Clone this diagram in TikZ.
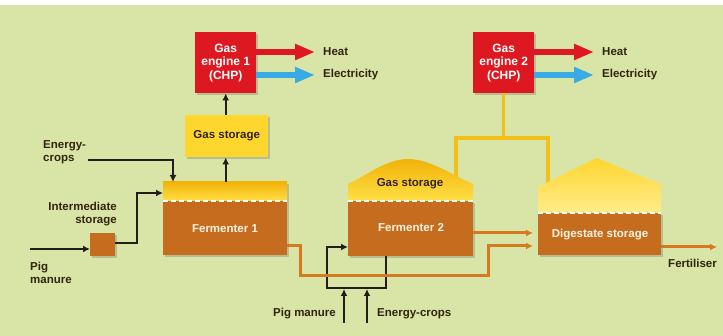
\documentclass[tikz,border=0pt]{standalone}
\usepackage{fontspec}
\setmainfont{Liberation Sans}
\usetikzlibrary{arrows.meta,shadows}
\definecolor{bg}{RGB}{217,229,167}
\definecolor{cred}{RGB}{222,24,32}
\definecolor{cblue}{RGB}{58,170,228}
\definecolor{cbrown}{RGB}{198,108,30}
\definecolor{cgold}{RGB}{242,178,8}
\definecolor{cyel}{RGB}{255,214,45}
\definecolor{cyel2}{RGB}{255,224,70}
\definecolor{cpale}{RGB}{255,236,140}
\definecolor{corange}{RGB}{214,122,34}
\definecolor{cpipe}{RGB}{244,192,24}
\definecolor{cink}{RGB}{35,30,25}
\definecolor{ctxt}{RGB}{50,36,12}
\definecolor{cwt}{RGB}{255,244,225}
\tikzset{
  fnt/.style={font=\bfseries\fontsize{11.5}{13}\selectfont},
  box/.style={draw=none, inner sep=0pt, anchor=north west,
    drop shadow={shadow xshift=1.5pt, shadow yshift=-1.5pt, opacity=0.3, fill=black!60}},
  engine/.style={box, fill=cred, text=white, align=center,
    font=\bfseries\fontsize{12}{13.5}\selectfont, minimum width=61pt, minimum height=61pt},
  lbl/.style={fnt, text=ctxt, inner sep=0pt},
  wlbl/.style={fnt, text=cwt, inner sep=0pt},
  harrow/.style={line width=6pt, -{Triangle[length=20pt,width=15pt]}},
  blk/.style={draw=cink, line width=2.2pt},
  blkarrow/.style={blk, -{Latex[length=7pt,width=7pt]}},
  oline/.style={draw=corange, line width=3pt, -{Latex[length=7pt,width=7pt]}},
  pipe/.style={draw=cpipe, line width=3.2pt},
  wdash/.style={draw=white, line width=1.3pt, dash pattern=on 5pt off 3pt},
}
\begin{document}
\begin{tikzpicture}[x=1pt,y=-1pt]
\useasboundingbox (0,0) rectangle (723,336);
\fill[bg] (0,0) rectangle (723,336);
\fill[white] (0,0) rectangle (723,5);

% gas engines
\node[engine] (eng1) at (195,32) {Gas\\engine 1\\(CHP)};
\node[engine] (eng2) at (473,32) {Gas\\engine 2\\(CHP)};
\node[lbl, anchor=west] (heat1) at (323,52) {Heat};
\node[lbl, anchor=west] (el1) at (323,75) {Electricity};
\node[lbl, anchor=west] (heat2) at (602,52) {Heat};
\node[lbl, anchor=west] (el2) at (602,75) {Electricity};
\draw[harrow, cred] (eng1.east |- heat1.west) -- ([xshift=-8pt]heat1.west);
\draw[harrow, cblue] (eng1.east |- el1.west) -- ([xshift=-8pt]el1.west);
\draw[harrow, cred] (eng2.east |- heat2.west) -- ([xshift=-8pt]heat2.west);
\draw[harrow, cblue] (eng2.east |- el2.west) -- ([xshift=-8pt]el2.west);

% gas storage 1
\node[box, fill=cyel, minimum width=83pt, minimum height=42pt, fnt, text=ctxt] (gs1) at (185,115) {Gas storage};

% pipes from engine 2
\coordinate (pj) at (503,138);
\coordinate (pl) at (456,138);
\coordinate (pr) at (548,138);
\draw[pipe] (eng2.south) -- (eng2.south |- pj);
\draw[pipe, line cap=rect] (pl) -- (pr);
\draw[pipe] (pl) -- (456,182);
\draw[pipe] (pr) -- (548,186);

% fermenter 1
\node[box, fill=cbrown, minimum width=124pt, minimum height=73pt] (f1) at (163,182) {};
\shade[top color=cgold, bottom color=cyel2] (163,182) rectangle (287,201);
\draw[wdash] (163,201) -- (287,201);
\node[wlbl] (f1t) at (225,229) {Fermenter 1};

% fermenter 2
\node[box, fill=cbrown, minimum width=125pt, minimum height=55pt] (f2) at (348,201) {};
\shade[top color=cgold, bottom color=cyel2]
  (348,201) -- (348,184) .. controls (366,176) and (386,159) .. (408,159)
  .. controls (430,159) and (454,176) .. (473,184) -- (473,201) -- cycle;
\draw[wdash] (348,201) -- (473,201);
\node[lbl] (gs2t) at (410,184) {Gas storage};
\node[wlbl] (f2t) at (411,228) {Fermenter 2};

% digestate storage
\node[box, fill=cbrown, minimum width=123pt, minimum height=42pt] (ds) at (538,213) {};
\shade[top color=cyel, bottom color=cpale]
  (538,213) -- (538,187) .. controls (558,177) and (578,167) .. (597,158)
  .. controls (618,167) and (640,176) .. (661,184) -- (661,213) -- cycle;
\draw[wdash] (538,213) -- (661,213);
\node[wlbl] (dst) at (600,235) {Digestate storage};

% gas storage arrows
\draw[blkarrow] (f1.north -| eng1.south) -- (gs1.south -| eng1.south);
\draw[blkarrow] (gs1.north -| eng1.south) -- (eng1.south);

% energy crops (left)
\node[lbl, anchor=west, align=left] (ec1) at (43,152) {Energy-\\crops};
\coordinate (ecs) at (88,160);
\draw[blkarrow] (ecs) -- (173,160) -- (f1.north -| 173,0);

% intermediate storage
\node[lbl, anchor=east, align=right] (ist1) at (117,214) {Intermediate\\storage};
\node[box, fill=cbrown, minimum width=25pt, minimum height=23pt] (ist) at (90,233) {};
\node[lbl, anchor=west, align=left] (pm1) at (30,273) {Pig\\manure};
\coordinate (pms) at (30,249);
\draw[blkarrow] (pms) -- (pms -| ist.west);
\draw[blkarrow] (ist.east |- 0,243) -- (137,243) -- (137,193) -- (f1.west |- 0,193);

% fermenter 2 feed
\node[lbl, anchor=east] (pm2) at (336,314) {Pig manure};
\node[lbl, anchor=west] (ec2) at (377,314) {Energy-crops};
\coordinate (pma) at (344,323);
\coordinate (eca) at (367,323);
\draw[blk] (f2.south -| 386,0) -- (386,288) -- (327,288);
\draw[blkarrow] (386,288) -- (327,288) -- (327,247) -- (f2.west |- 0,247);
\draw[blkarrow] (pma) -- (344,289);
\draw[blkarrow] (eca) -- (367,289);

% digestate flows
\draw[oline] (f1.east |- 0,246) -- (300,246) -- (300,276) -- (488,276) -- (488,246) -- ([xshift=-5pt]ds.west |- 0,246);
\draw[oline] (f2.east |- 0,233) -- ([xshift=-5pt]ds.west |- 0,233);
\coordinate (fert) at (717,247);
\draw[oline] (ds.east |- fert) -- (fert);
\node[lbl, anchor=east] (fertt) at (717,263) {Fertiliser};
\end{tikzpicture}
\end{document}
